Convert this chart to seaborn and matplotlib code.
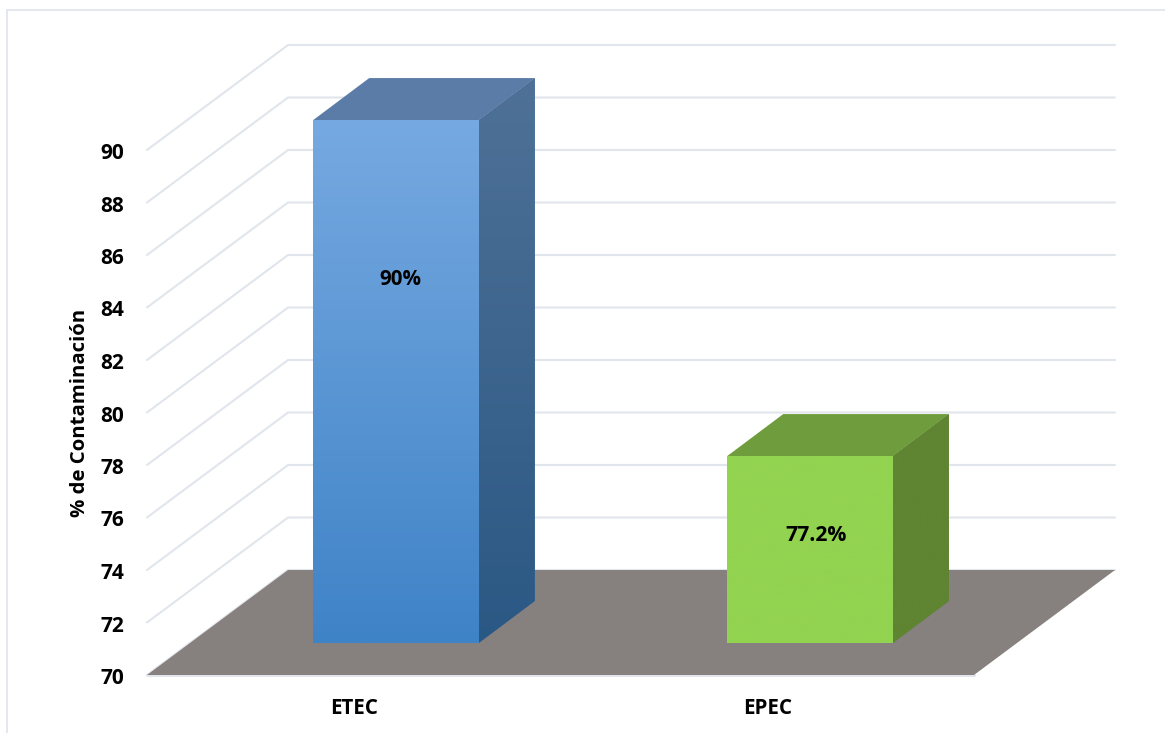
import numpy as np
import pandas as pd
import matplotlib
matplotlib.use("Agg")
import matplotlib.pyplot as plt
from matplotlib.colors import LinearSegmentedColormap
from matplotlib.lines import Line2D
from matplotlib.patches import Polygon
from matplotlib.transforms import Affine2D
import seaborn as sns

# data
groups = ["ETEC", "EPEC"]
values = [90.0, 77.2]
value_labels = ["90%", "77.2%"]
y_ticks = list(range(70, 92, 2))
y_title = "% de Contaminación"

# styles
front_top = ["#76A9E1", "#92D350"]
front_bottom = ["#3F83C7", "#92D350"]
side_top = ["#4F7197", "#5F8432"]
side_bottom = ["#2A5884", "#5F8432"]
top_face = ["#5A7CA7", "#6F9C3D"]
grid_color = "#E1E5EC"
floor_color = "#86817F"
FONT = "Open Sans"

sns.set_theme(style="white")
plt.rcParams["font.family"] = [FONT, "DejaVu Sans"]

W, H = 1165, 733
fig = plt.figure(figsize=(W / 100, H / 100), dpi=100)
L, R, T, B = 147, 1115, 45, 675
ax = fig.add_axes([L / W, 1 - B / H, (R - L) / W, (B - T) / H])

df = pd.DataFrame({"Grupo": groups, "Contaminacion": values})
sns.barplot(data=df, x="Grupo", y="Contaminacion", hue="Grupo", palette=front_top,
            width=0.4, legend=False, saturation=1, ax=ax, zorder=5)

XMIN, XMAX, YMIN, YMAX = -0.5, 1.838, 70, 94
WALL_DX, WALL_DY = 0.3406, 4.0     # floor depth, front to back wall
BAR_DX, BAR_DY = 0.1353, 1.6       # bar depth
LIFT_X, LIFT_Y = 0.1014, 1.14      # bars sit inside the floor
BASE = 70.08

# walls and gridlines
for v in y_ticks:
    ax.plot([XMIN, XMIN + WALL_DX, XMAX], [v, v + WALL_DY, v + WALL_DY],
            color=grid_color, lw=1.5, zorder=1, clip_on=False, solid_joinstyle="miter")
ax.plot([XMIN, XMAX - WALL_DX], [70, 70], color=grid_color, lw=2.2, zorder=1.5, clip_on=False)

# floor
ax.add_patch(Polygon([(XMIN, 70), (XMIN + WALL_DX, 70 + WALL_DY), (XMAX, 70 + WALL_DY),
                      (XMAX - WALL_DX, 70)], closed=True, fc=floor_color, ec="none", zorder=2))


def gradient(c_top, c_bottom, extent, clip, z):
    cmap = LinearSegmentedColormap.from_list("g", [c_top, c_bottom])
    im = ax.imshow(np.linspace(0, 1, 256)[:, None], cmap=cmap, extent=extent,
                   aspect="auto", zorder=z, interpolation="bilinear")
    im.set_clip_path(clip)


# bars
for i, (patch, v) in enumerate(zip(list(ax.patches)[:2], values)):
    patch.set_y(BASE)
    patch.set_height(v - BASE)
    x0 = patch.get_x() + LIFT_X
    x1 = x0 + patch.get_width()
    y0 = BASE + LIFT_Y
    y1 = v + LIFT_Y
    patch.set_transform(Affine2D().translate(LIFT_X, LIFT_Y) + ax.transData)
    patch.set_clip_on(False)
    patch.set_edgecolor("none")
    gradient(front_top[i], front_bottom[i], [x0, x1, y0, y1], patch, 5.5)

    side = Polygon([(x1, y0), (x1 + BAR_DX, y0 + BAR_DY), (x1 + BAR_DX, y1 + BAR_DY), (x1, y1)],
                   closed=True, fc=side_top[i], ec="none", zorder=4)
    ax.add_patch(side)
    gradient(side_top[i], side_bottom[i], [x1, x1 + BAR_DX, y0, y1 + BAR_DY], side, 4.5)

    ax.add_patch(Polygon([(x0, y1), (x0 + BAR_DX, y1 + BAR_DY), (x1 + BAR_DX, y1 + BAR_DY), (x1, y1)],
                         closed=True, fc=top_face[i], ec="none", zorder=4))

# value labels, placed inside the front faces
label_xy = [(0.111, 85.08), (1.116, 75.31)]
for (lx, ly), text, fs in zip(label_xy, value_labels, [14.8, 15.2]):
    ax.text(lx, ly, text, ha="center", va="center", fontsize=fs, fontweight="bold",
            color="black", zorder=8)

# axes
ax.set_xlim(XMIN, XMAX)
ax.set_ylim(YMIN, YMAX)
ax.set_yticks(y_ticks)
ax.set_yticklabels([str(t) for t in y_ticks], fontsize=15, fontweight="bold", color="black")
ax.set_xticks(range(len(groups)))
ax.set_xticklabels(groups, fontsize=14.8, fontweight="bold", color="black")
ax.tick_params(axis="y", length=0, pad=16.5)
ax.tick_params(axis="x", length=0, pad=16.5)
for lab in ax.get_yticklabels():
    lab.set_transform(lab.get_transform() + Affine2D().translate(0, -1))
ax.set_xlabel("")
ax.set_ylabel(y_title, fontsize=14.7, fontweight="bold", color="black")
ax.yaxis.set_label_coords((90 - L) / (R - L), (B - 413) / (B - T))
ax.grid(False)
ax.patch.set_visible(False)
for s in ax.spines.values():
    s.set_visible(False)

# chart-area border
border = "#DFE4EB"
fig.add_artist(Line2D([7 / W, 7 / W], [0, 1 - 10 / H], color=border, lw=1.2))
fig.add_artist(Line2D([7 / W, 1], [1 - 10 / H, 1 - 10 / H], color=border, lw=1.2))

fig.savefig("out.png", dpi=100, facecolor="white")
